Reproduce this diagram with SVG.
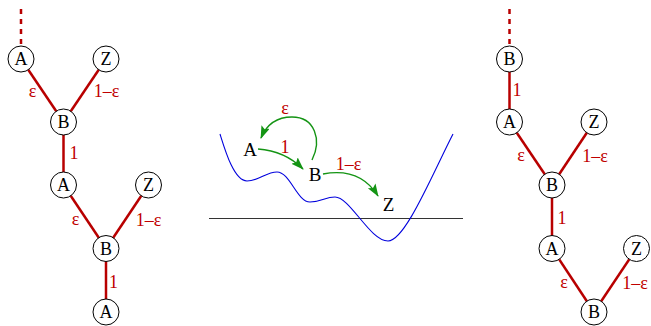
<svg xmlns="http://www.w3.org/2000/svg" width="651" height="326" viewBox="0 0 651 326">
<style>
.e{stroke:#b80000;stroke-width:2.5;fill:none}
.d{stroke:#b80000;stroke-width:2.5;stroke-dasharray:5,5;fill:none}
.n circle{fill:#fff;stroke:#000;stroke-width:1}
.n text,.t{font-family:"Liberation Serif",serif;font-size:18px;fill:#000;text-anchor:middle}
.t{font-size:19px}
.l{font-family:"Liberation Serif",serif;font-size:18px;fill:#c00000;text-anchor:middle}
.g{stroke:#149414;stroke-width:1.4;fill:none;marker-end:url(#ah)}
</style>
<defs>
<marker id="ah" markerWidth="14" markerHeight="10" refX="12" refY="4.5" orient="auto" markerUnits="userSpaceOnUse">
<path d="M0,0 L13,4.5 L0,9 L2.5,4.5 z" fill="#149414"/>
</marker>
</defs>
<g id="connectors">
<line class="d" x1="21" y1="9" x2="21" y2="46"/>
<line class="e" x1="21" y1="59" x2="63.5" y2="122"/>
<line class="e" x1="106" y1="59" x2="63.5" y2="122"/>
<line class="e" x1="63.5" y1="122" x2="63.5" y2="185"/>
<line class="e" x1="63.5" y1="185" x2="106" y2="248.5"/>
<line class="e" x1="148.5" y1="185" x2="106" y2="248.5"/>
<line class="e" x1="106" y1="248.5" x2="106" y2="312"/>
<line class="d" x1="509.5" y1="9" x2="509.5" y2="46"/>
<line class="e" x1="509.5" y1="59" x2="509.5" y2="122"/>
<line class="e" x1="509.5" y1="122" x2="552" y2="185"/>
<line class="e" x1="594" y1="122" x2="552" y2="185"/>
<line class="e" x1="552" y1="185" x2="552" y2="248.5"/>
<line class="e" x1="552" y1="248.5" x2="594" y2="312"/>
<line class="e" x1="636.5" y1="248.5" x2="594" y2="312"/>
<path class="g" d="M258,149 Q285,151 303,169"/>
<path class="g" d="M312,160 C322,140 315,117 292,117 C276,117 266,126 261,138"/>
<path class="g" d="M323,174 Q360,167 378,196"/>
</g>
<g id="labels">
<text class="l" x="32.5" y="96.5">ε</text>
<text class="l" x="106.5" y="97">1–ε</text>
<text class="l" x="74" y="159">1</text>
<text class="l" x="75.5" y="224.5">ε</text>
<text class="l" x="148.5" y="226">1–ε</text>
<text class="l" x="113.5" y="288">1</text>
<text class="l" x="517" y="96">1</text>
<text class="l" x="521" y="160.5">ε</text>
<text class="l" x="595" y="162">1–ε</text>
<text class="l" x="562" y="224">1</text>
<text class="l" x="564" y="287.5">ε</text>
<text class="l" x="635" y="289">1–ε</text>
<text class="l" x="285" y="113.5">ε</text>
<text class="l" x="285" y="152.5">1</text>
<text class="l" x="348.5" y="170">1–ε</text>
</g>
<g id="landscape">
<line x1="209" y1="218.5" x2="463" y2="218.5" stroke="#333" stroke-width="1.2"/>
<path d="M220,134 C225,150 234,181 247,181 C259,181 266,172 277,172 C290,172 297,202 310,202 C322,202 325,197 335,197 C350,197 370,241 388,241 C405,241 432,175 453,134" fill="none" stroke="#0000dd" stroke-width="1.1"/>
</g>
<g id="m-A"><text class="t" x="250" y="156">A</text></g>
<g id="m-B"><text class="t" x="315" y="181">B</text></g>
<g id="m-Z"><text class="t" x="388.5" y="211">Z</text></g>
<g id="L1" class="n"><circle cx="21" cy="59" r="13"/><text x="21" y="65">A</text></g>
<g id="L2" class="n"><circle cx="106" cy="59" r="13"/><text x="106" y="65">Z</text></g>
<g id="L3" class="n"><circle cx="63.5" cy="122" r="13"/><text x="63.5" y="128">B</text></g>
<g id="L4" class="n"><circle cx="63.5" cy="185" r="13"/><text x="63.5" y="191">A</text></g>
<g id="L5" class="n"><circle cx="148.5" cy="185" r="13"/><text x="148.5" y="191">Z</text></g>
<g id="L6" class="n"><circle cx="106" cy="248.5" r="13"/><text x="106" y="254.5">B</text></g>
<g id="L7" class="n"><circle cx="106" cy="312" r="13"/><text x="106" y="318">A</text></g>
<g id="R1" class="n"><circle cx="509.5" cy="59" r="13"/><text x="509.5" y="65">B</text></g>
<g id="R2" class="n"><circle cx="509.5" cy="122" r="13"/><text x="509.5" y="128">A</text></g>
<g id="R3" class="n"><circle cx="594" cy="122" r="13"/><text x="594" y="128">Z</text></g>
<g id="R4" class="n"><circle cx="552" cy="185" r="13"/><text x="552" y="191">B</text></g>
<g id="R5" class="n"><circle cx="552" cy="248.5" r="13"/><text x="552" y="254.5">A</text></g>
<g id="R6" class="n"><circle cx="636.5" cy="248.5" r="13"/><text x="636.5" y="254.5">Z</text></g>
<g id="R7" class="n"><circle cx="594" cy="312" r="13"/><text x="594" y="318">B</text></g>
</svg>
